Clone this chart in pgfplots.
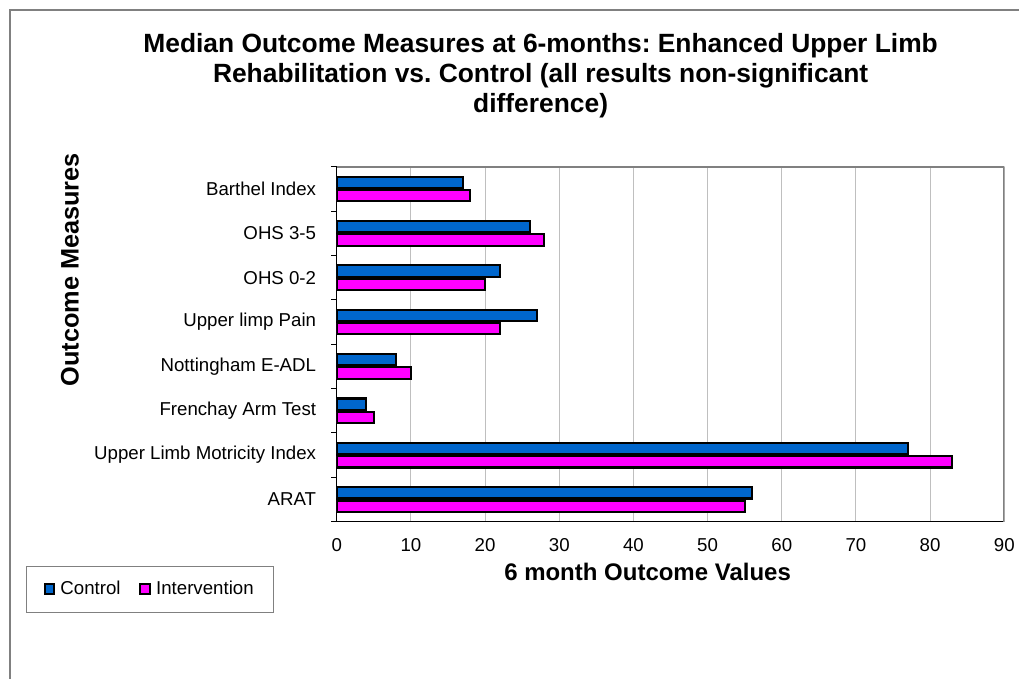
\documentclass[border=0pt]{standalone}
\usepackage{pgfplots}
\pgfplotsset{compat=1.18}
\usepackage{pgfplotstable}
\usepackage{fontspec}
\setmainfont{Liberation Sans}
\frenchspacing
\definecolor{ctrlblue}{HTML}{0066CC}
\definecolor{intmag}{HTML}{FF00FF}
\definecolor{framegray}{HTML}{808080}

% medians at 6 months, categories bottom to top
\pgfplotstableread{
idx control intervention
0 56 55
1 77 83
2 4 5
3 8 10
4 27 22
5 22 20
6 26 28
7 17 18
}\outcomes

\begin{document}
\begin{tikzpicture}
\path (0,0) rectangle (765pt,509.25pt);
\draw[framegray, line width=1.1pt] (7.5pt,0) -- (7.5pt,501.75pt) -- (765pt,501.75pt);
\begin{scope}[every node/.style={font=\bfseries\fontsize{19.8}{23}\selectfont, inner sep=0pt, anchor=base}]
\node at (405.75pt,469.5pt) {Median Outcome Measures at 6-months: Enhanced Upper Limb};
\node at (405.75pt,447pt) {Rehabilitation vs. Control (all results non-significant};
\node at (405.75pt,424.5pt) {difference)};
\end{scope}
\begin{axis}[
  at={(252.75pt,117.75pt)}, anchor=south west,
  scale only axis, width=501pt, height=266.25pt,
  xbar, bar width=8.5pt,
  xmin=0, xmax=90, ymin=-0.5, ymax=7.5,
  xtick={0,10,...,90},
  ytick={0,...,7},
  yticklabels={ARAT, Upper Limb Motricity Index, Frenchay Arm Test, Nottingham E-ADL, Upper limp Pain, OHS 0-2, OHS 3-5, Barthel Index},
  minor ytick={-0.5,0.5,...,7.5},
  major tick length=0pt, minor tick length=4pt, tick align=outside,
  tick style={black, line width=0.8pt},
  axis x line*=bottom, axis y line*=left,
  axis line style={black, line width=0.9pt},
  xmajorgrids, major grid style={draw=gray!50, line width=0.7pt},
  /pgf/number format/assume math mode=true,
  tick label style={font=\fontsize{14}{16}\selectfont},
  xticklabel style={yshift=-9pt},
  yticklabel style={xshift=-12pt},
  xlabel={6 month Outcome Values},
  ylabel={Outcome Measures},
  label style={font=\bfseries\fontsize{18}{21}\selectfont},
  ylabel style={font=\bfseries\fontsize{19}{21}\selectfont},
  xlabel style={at={(axis description cs:0.4656,-0.141)}, anchor=center},
  ylabel style={at={(axis description cs:-0.3997,0.71)}, anchor=center},
  legend columns=2,
  legend style={at={(axis description cs:-0.4656,-0.124)}, anchor=north west,
    draw=framegray, font=\fontsize{14}{16}\selectfont,
    inner xsep=13pt, inner ysep=9.5pt,
    /tikz/every odd column/.append style={column sep=2pt},
    /tikz/every even column/.append style={column sep=12pt}},
  legend image code/.code={\draw[#1, line width=1.5pt] (0pt,-3.6pt) rectangle (7.2pt,3.6pt);},
]
\addplot[fill=ctrlblue, draw=black, line width=1.6pt, bar shift=5pt] table[x=control, y=idx] {\outcomes};
\addplot[fill=intmag, draw=black, line width=1.6pt, bar shift=-5pt] table[x=intervention, y=idx] {\outcomes};
\legend{Control, Intervention}
\draw[framegray, line width=2.4pt] (rel axis cs:0,1) -- (rel axis cs:1,1) -- (rel axis cs:1,0);
\end{axis}
\end{tikzpicture}
\end{document}
